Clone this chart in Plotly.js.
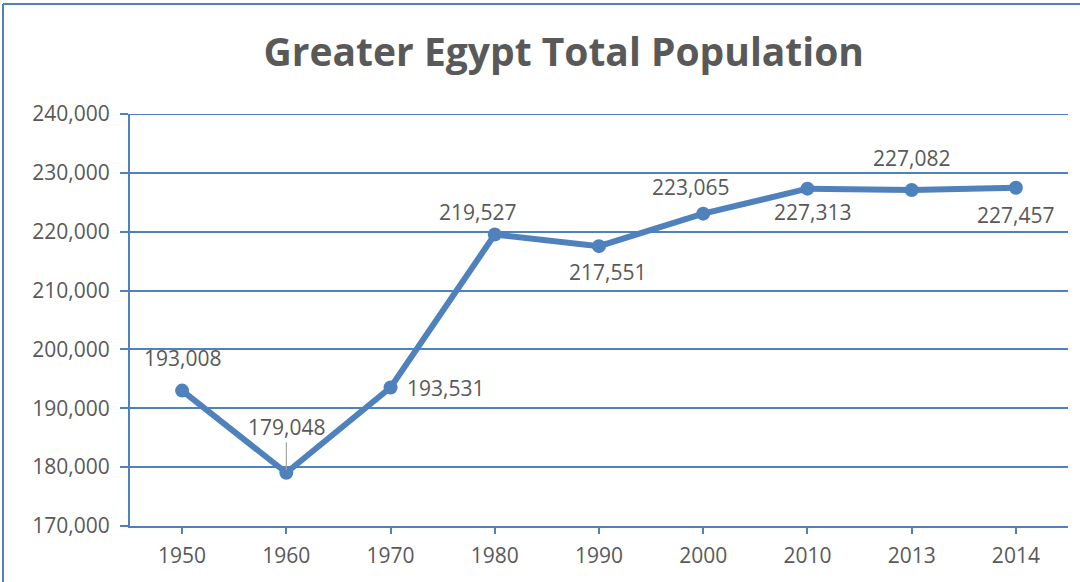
<!DOCTYPE html>
<html>
<head>
<meta charset="utf-8">
<script src="https://cdn.plot.ly/plotly-3.0.1.min.js"></script>
<style>html,body{margin:0;padding:0;background:#fff;}#chart{width:1080px;height:582px;}</style>
</head>
<body>
<div id="chart"></div>
<script>
// Data
const years = ['1950', '1960', '1970', '1980', '1990', '2000', '2010', '2013', '2014'];
const population = [193008, 179048, 193531, 219527, 217551, 223065, 227313, 227082, 227457];
const yTickVals = [170000, 180000, 190000, 200000, 210000, 220000, 230000, 240000];

// Label placement (style only): pixel offsets of each data label
const labelDx = [0, 0, 55, -17, 8, -13, 5, 0, 0];
const labelDy = [33, 0, 0, 23, -26, 27, -23, 32, -27];

const blue = '#4F81BD';
const textColor = '#595959';
const fontFam = '"Open Sans", "Liberation Sans", sans-serif';
const fsize = 21;

const trace = {
  x: years,
  y: population,
  type: 'scatter',
  mode: 'lines+markers',
  line: {color: blue, width: 6},
  marker: {color: blue, size: 14},
  hoverinfo: 'x+y'
};

const fmt = v => v.toLocaleString('en-US');

// category axis: annotation x given as the category index
const annotations = years.map((yr, i) => {
  if (i === 1) {
    return {
      x: i, y: population[i], xref: 'x', yref: 'y',
      text: fmt(population[i]),
      showarrow: true, arrowhead: 0, arrowwidth: 1.2, arrowcolor: '#A6A6A6',
      ax: 0, ay: -46, standoff: 3,
      font: {family: fontFam, size: fsize, color: textColor}
    };
  }
  return {
    x: i, y: population[i], xref: 'x', yref: 'y',
    text: fmt(population[i]),
    showarrow: false,
    xshift: labelDx[i], yshift: labelDy[i],
    font: {family: fontFam, size: fsize, color: textColor}
  };
});

// tick positions for the crossing tick marks (category centres + right end)
const crossTicks = years.map((y, i) => i).concat([years.length - 0.5]);

const layout = {
  width: 1080, height: 582,
  margin: {l: 130, r: 12, t: 114, b: 56, pad: 0},
  paper_bgcolor: '#fff', plot_bgcolor: '#fff',
  showlegend: false,
  title: {
    text: '<b>Greater Egypt Total Population</b>',
    font: {family: fontFam, size: 39, color: textColor},
    x: 0.522, xanchor: 'center', y: 0.91, yanchor: 'middle'
  },
  xaxis: {
    type: 'category',
    range: [-0.5, years.length - 0.5],
    showgrid: false,
    showline: true, linecolor: blue, linewidth: 2,
    ticks: 'outside', ticklen: 6, tickcolor: blue, tickwidth: 2,
    tickfont: {family: fontFam, size: fsize, color: textColor},
    ticklabelstandoff: 4,
    zeroline: false,
    fixedrange: true
  },
  xaxis2: {
    overlaying: 'x', anchor: 'y', side: 'bottom',
    type: 'linear', range: [-0.5, years.length - 0.5],
    tickmode: 'array', tickvals: crossTicks,
    showticklabels: false, showgrid: false, zeroline: false, showline: false,
    ticks: 'inside', ticklen: 6, tickcolor: blue, tickwidth: 2,
    fixedrange: true
  },
  xaxis3: {
    overlaying: 'x', anchor: 'y', side: 'bottom',
    type: 'linear', range: [-0.5, years.length - 0.5],
    tickmode: 'array', tickvals: [years.length - 0.5],
    showticklabels: false, showgrid: false, zeroline: false, showline: false,
    ticks: 'outside', ticklen: 6, tickcolor: blue, tickwidth: 2,
    fixedrange: true
  },
  yaxis: {
    range: [170000, 240000],
    tickvals: yTickVals,
    ticktext: yTickVals.map(fmt),
    showgrid: true, gridcolor: blue, gridwidth: 2,
    showline: true, linecolor: blue, linewidth: 2,
    ticks: 'outside', ticklen: 8, tickcolor: blue, tickwidth: 2,
    tickfont: {family: fontFam, size: fsize, color: textColor},
    ticklabelstandoff: 6,
    zeroline: false,
    fixedrange: true
  },
  annotations: annotations,
  shapes: [
    // top gridline (hidden by Plotly at the plot edge)
    {type: 'line', xref: 'paper', yref: 'y', x0: 0, x1: 1,
     y0: yTickVals[yTickVals.length - 1], y1: yTickVals[yTickVals.length - 1],
     line: {color: blue, width: 2}, layer: 'below'},
    // outer chart border
    {type: 'line', xref: 'paper', yref: 'paper', x0: -0.1354, x1: 1.02, y0: 1.267, y1: 1.267,
     line: {color: blue, width: 2}},
    {type: 'line', xref: 'paper', yref: 'paper', x0: -0.1354, x1: -0.1354, y0: 1.267, y1: -0.2,
     line: {color: blue, width: 2}}
  ]
};

Plotly.newPlot('chart', [trace], layout, {displayModeBar: false, staticPlot: true});
</script>
</body>
</html>
